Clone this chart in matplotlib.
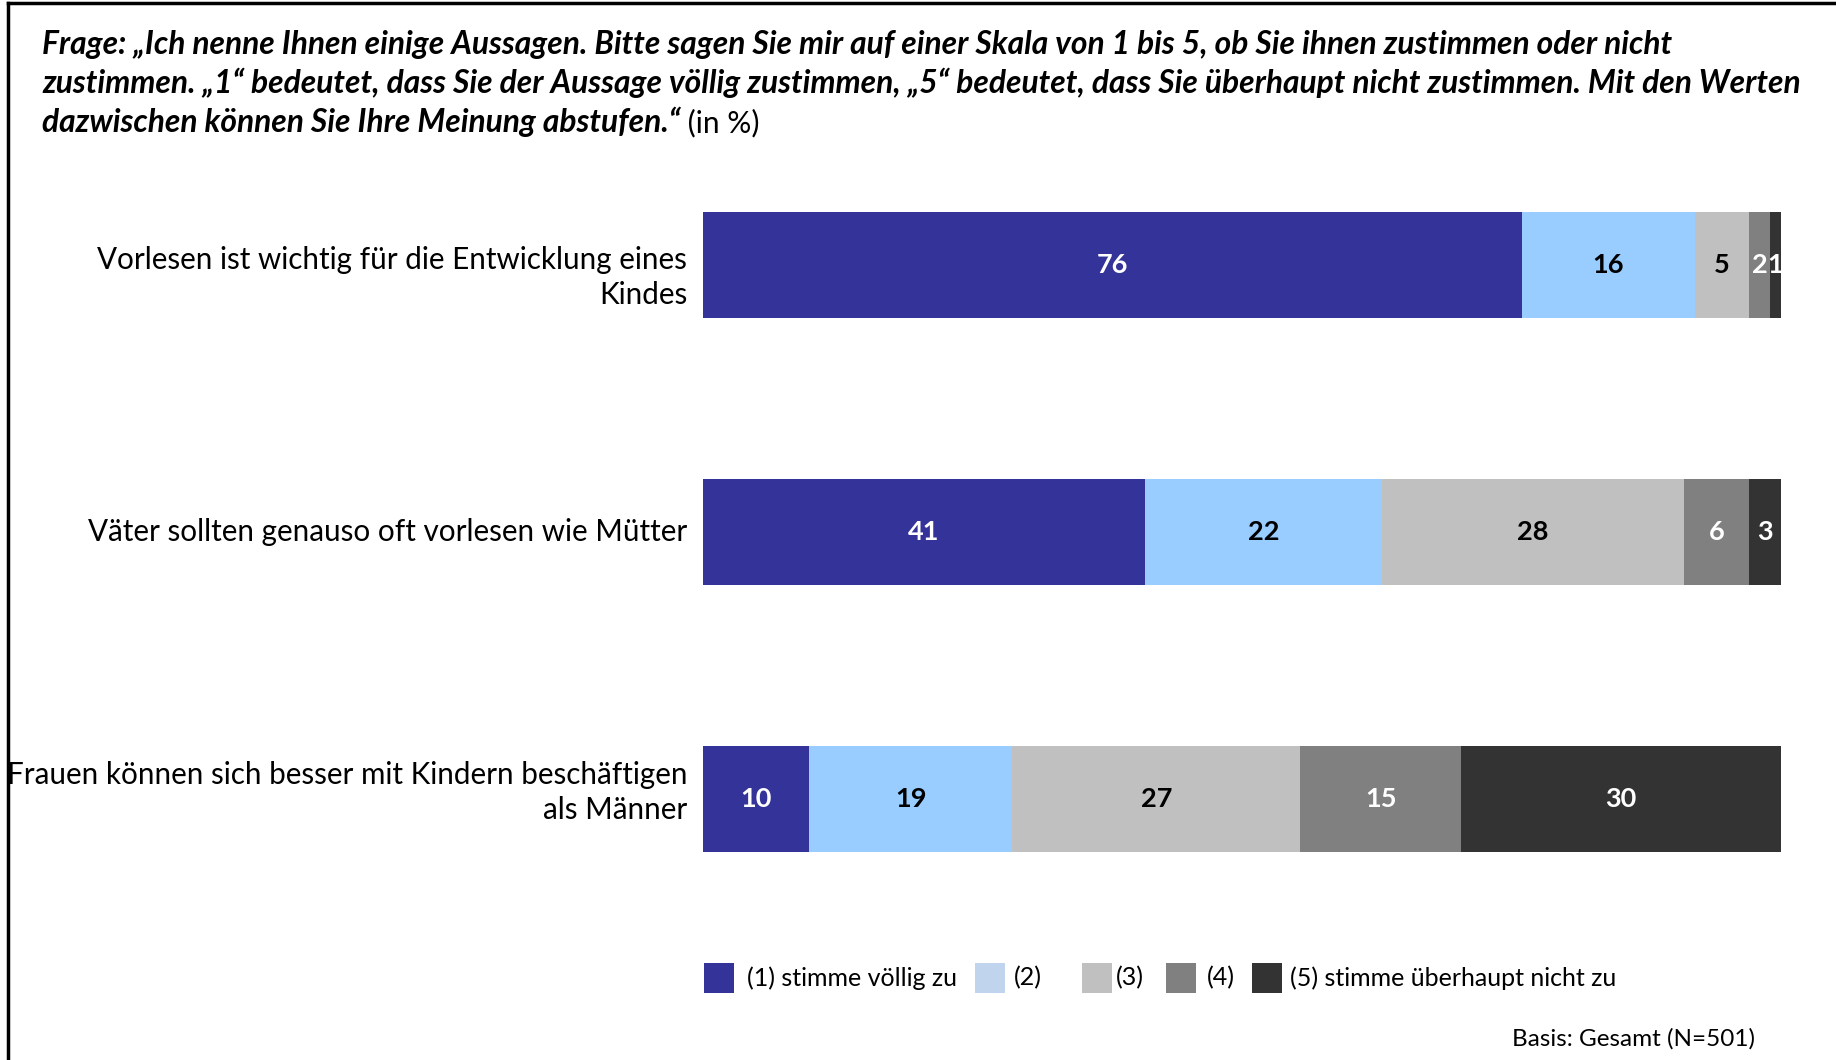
import numpy as np
import matplotlib
matplotlib.use("Agg")
import matplotlib.pyplot as plt
from matplotlib.patches import Rectangle
from matplotlib.lines import Line2D

plt.rcParams['font.family'] = ['Lato', 'DejaVu Sans']

statements = [
    "Vorlesen ist wichtig für die Entwicklung eines\nKindes",
    "Väter sollten genauso oft vorlesen wie Mütter",
    "Frauen können sich besser mit Kindern beschäftigen\nals Männer",
]
# Anteile je Antwortstufe (1) bis (5), in %
stufe1 = [76, 41, 10]
stufe2 = [16, 22, 19]
stufe3 = [5, 28, 27]
stufe4 = [2, 6, 15]
stufe5 = [1, 3, 30]

legend_labels = ["(1) stimme völlig zu", "(2)", "(3)", "(4)", "(5) stimme überhaupt nicht zu"]
bar_colors = ["#333399", "#99CCFF", "#C0C0C0", "#808080", "#333333"]
legend_colors = ["#333399", "#C0D4EE", "#C0C0C0", "#808080", "#333333"]
text_colors = ["white", "black", "black", "white", "white"]

title_lines = [
    "Frage: „Ich nenne Ihnen einige Aussagen. Bitte sagen Sie mir auf einer Skala von 1 bis 5, ob Sie ihnen zustimmen oder nicht",
    "zustimmen. „1“ bedeutet, dass Sie der Aussage völlig zustimmen, „5“ bedeutet, dass Sie überhaupt nicht zustimmen. Mit den Werten",
    "dazwischen können Sie Ihre Meinung abstufen.“",
]
basis = "Basis: Gesamt (N=501)"

W, H = 1836, 1060
fig = plt.figure(figsize=(W / 100, H / 100), dpi=100)

def fx(px):
    return px / W

def fy(py):
    return 1 - py / H

# Balkenbereich in Pixeln
left, right = 702.5, 1781
ax = fig.add_axes([fx(left), fy(905), fx(right - left), (905 - 159) / H])

data = np.array([stufe1, stufe2, stufe3, stufe4, stufe5], dtype=float)
shares = data / data.sum(axis=0) * 100
ypos = np.arange(len(statements))
bottom = np.zeros(len(statements))
for i in range(5):
    ax.barh(ypos, shares[i], left=bottom, height=0.397, color=bar_colors[i], linewidth=0)
    for j in range(len(statements)):
        ax.text(bottom[j] + shares[i, j] / 2, ypos[j], f"{int(data[i, j])}",
                ha='center', va='center', color=text_colors[i], fontsize=19.5, fontweight='bold')
    bottom += shares[i]

ax.set_xlim(0, 100)
ax.set_ylim(2.397, -0.397)
ax.axis('off')

# Aussagen links neben den Balken
label_dy = [-9, 0, 5]
for j, s in enumerate(statements):
    ax.annotate(s, xy=(0, ypos[j]), xytext=(-11, label_dy[j]), textcoords='offset points',
                ha='right', va='center', fontsize=21.3, linespacing=1.3, multialignment='right',
                annotation_clip=False)

# Frage
title_y = [44.5, 83, 122]
for k, line in enumerate(title_lines):
    t = fig.text(fx(42), fy(title_y[k]), line, fontsize=22.9, fontweight='bold', style='italic',
                 ha='left', va='center')
ax.annotate(" (in %)", xy=(1, 0), xycoords=t, ha='left', va='bottom', fontsize=21.5,
            annotation_clip=False)

# Legende
patch_x = [704, 975, 1082, 1166, 1252]
text_x = [747, 1014, 1116, 1207, 1290]
leg_y = 978
for k in range(5):
    fig.patches.append(Rectangle((fx(patch_x[k]), fy(leg_y + 15)), fx(30), 30 / H,
                                 transform=fig.transFigure, color=legend_colors[k], linewidth=0))
    fig.text(fx(text_x[k]), fy(leg_y), legend_labels[k], fontsize=18, ha='left', va='center')

fig.text(fx(1755), fy(1039), basis, fontsize=17.5, ha='right', va='center')

# Rahmen oben und links
fig.add_artist(Line2D([fx(8), 1], [fy(3), fy(3)], color='black', linewidth=2.5))
fig.add_artist(Line2D([fx(8), fx(8)], [0, fy(3)], color='black', linewidth=2.5))

fig.savefig("out.png", dpi=100)
